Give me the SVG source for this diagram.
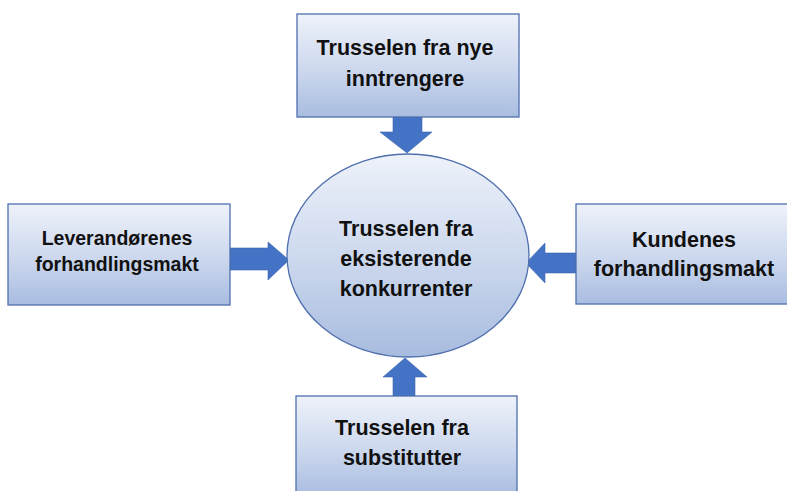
<svg xmlns="http://www.w3.org/2000/svg" width="787" height="491" viewBox="0 0 787 491">
  <style>
    .box { stroke: #4f6fae; stroke-width: 1.3; fill: url(#boxFill); }
    .hub { stroke: #4f6fae; stroke-width: 1.3; fill: url(#hubFill); }
    .arrow { fill: #4472c4; stroke: #3d66b0; stroke-width: 0.6; }
    text { font-family: "Liberation Sans", Arial, sans-serif; font-weight: bold; fill: #111; text-anchor: middle; font-size: 21.5px; }
    .small { font-size: 19.5px; }
  </style>
  <defs>
    <linearGradient id="boxFill" x1="0" y1="0" x2="0" y2="1">
      <stop offset="0" stop-color="#eef2fa"/>
      <stop offset="0.5" stop-color="#cfdaef"/>
      <stop offset="1" stop-color="#a9bde0"/>
    </linearGradient>
    <linearGradient id="hubFill" x1="0" y1="0" x2="0" y2="1">
      <stop offset="0" stop-color="#eef2fa"/>
      <stop offset="0.5" stop-color="#cdd9ee"/>
      <stop offset="1" stop-color="#a8bcdf"/>
    </linearGradient>
  </defs>

  <!-- block arrows pointing at the central oval -->
  <g id="connectors">
    <polygon class="arrow" points="393,117 422,117 422,132 432,132 407,153 380,132 393,132"/>
    <polygon class="arrow" points="230,248 268,248 268,242 289,260 268,280 268,270 230,270"/>
    <polygon class="arrow" points="576,253 545,253 545,243 526,263 545,283 545,273 576,273"/>
    <polygon class="arrow" points="393,396 393,377 383,377 405,358 427,377 415,377 415,396"/>
  </g>

  <g id="hub">
    <ellipse class="hub" cx="408" cy="255.5" rx="121" ry="101.5"/>
    <text x="406" y="236">Trusselen fra</text>
    <text x="406" y="266">eksisterende</text>
    <text x="406" y="296">konkurrenter</text>
  </g>

  <g id="new-entrants">
    <rect class="box" x="297" y="14" width="222" height="103"/>
    <text x="405" y="55">Trusselen fra nye</text>
    <text x="405" y="86">inntrengere</text>
  </g>

  <g id="suppliers">
    <rect class="box" x="8" y="204" width="222" height="101"/>
    <text class="small" x="117" y="245">Leverandørenes</text>
    <text class="small" x="117" y="271">forhandlingsmakt</text>
  </g>

  <g id="buyers">
    <rect class="box" x="576" y="204" width="216" height="100"/>
    <text x="684" y="247">Kundenes</text>
    <text x="684" y="276">forhandlingsmakt</text>
  </g>

  <g id="substitutes">
    <rect class="box" x="296" y="396" width="221" height="100"/>
    <text x="402" y="435">Trusselen fra</text>
    <text x="402" y="465">substitutter</text>
  </g>
</svg>
